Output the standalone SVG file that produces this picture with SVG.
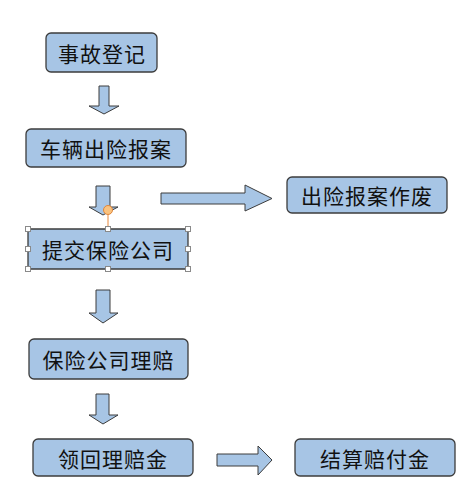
<svg xmlns="http://www.w3.org/2000/svg" width="471" height="493" viewBox="0 0 471 493">
<style>
.box{fill:#a7c5e5;stroke:#3c3c3c;stroke-width:1.3}
.arr{fill:#a7c5e5;stroke:#3c3c3c;stroke-width:1}
.t{font-family:"Noto Sans CJK SC","Noto Sans",sans-serif;font-size:21px;fill:#111;text-anchor:middle;dominant-baseline:central;letter-spacing:1px}
.h{fill:#fff;stroke:#8a8a8a;stroke-width:1}
</style>
<rect width="471" height="493" fill="#fff"/>
<g id="connectors">
<polygon class="arr" points="99,86 109,86 109,106 119,106 104,114 89,106 99,106"/>
<polygon class="arr" points="96,186 110,186 110,207 118,207 103,215 89,207 96,207"/>
<polygon class="arr" points="96,290 110,290 110,313 118,313 103,323 89,313 96,313"/>
<polygon class="arr" points="96,394 109,394 109,415 118,415 103,424 89,415 96,415"/>
<polygon class="arr" points="161,193 245,193 245,185 272,198.5 245,211 245,204 161,204"/>
<polygon class="arr" points="217,454 258,454 258,446 272,460 258,475 258,466 217,466"/>
</g>
<g id="n1"><rect class="box" x="46" y="33" width="111" height="39" rx="5"/><text class="t" x="102" y="52.5">事故登记</text></g>
<g id="n2"><rect class="box" x="26" y="129" width="160" height="38" rx="5"/><text class="t" x="106" y="148">车辆出险报案</text></g>
<g id="n3"><rect class="box" x="287" y="177" width="160" height="36" rx="5"/><text class="t" x="367" y="195">出险报案作废</text></g>
<g id="n4"><rect class="box" x="28" y="229" width="160" height="40" rx="2"/><text class="t" x="108" y="249">提交保险公司</text>
<line x1="108" y1="214.5" x2="108" y2="229" stroke="#e8883a" stroke-width="1"/>
<circle cx="108" cy="210" r="4.5" fill="#f9c27f" stroke="#e0863a" stroke-width="1"/>
<rect class="h" x="25.5" y="226.5" width="5" height="5"/><rect class="h" x="105.5" y="226.5" width="5" height="5"/><rect class="h" x="185.5" y="226.5" width="5" height="5"/>
<rect class="h" x="25.5" y="246.5" width="5" height="5"/><rect class="h" x="185.5" y="246.5" width="5" height="5"/>
<rect class="h" x="25.5" y="266.5" width="5" height="5"/><rect class="h" x="105.5" y="266.5" width="5" height="5"/><rect class="h" x="185.5" y="266.5" width="5" height="5"/>
</g>
<g id="n5"><rect class="box" x="29" y="339" width="159" height="40" rx="5"/><text class="t" x="108.5" y="359">保险公司理赔</text></g>
<g id="n6"><rect class="box" x="33" y="439" width="160" height="37" rx="5"/><text class="t" x="113" y="457.5">领回理赔金</text></g>
<g id="n7"><rect class="box" x="295" y="439" width="160" height="37" rx="5"/><text class="t" x="375" y="457.5">结算赔付金</text></g>
</svg>
